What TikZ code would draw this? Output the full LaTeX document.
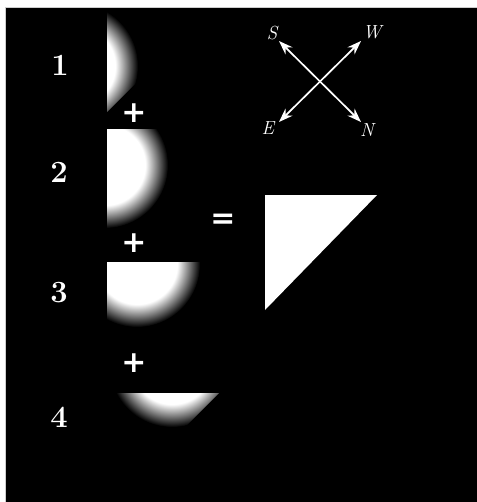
\documentclass[tikz,border=0pt]{standalone}
\usepackage{fontspec}
\usepackage{tikz}
\usetikzlibrary{arrows.meta, positioning}
\newfontfamily\opfont{DejaVu Sans}
\definecolor{myedge}{RGB}{205,205,205}
\definecolor{mybg}{RGB}{0,0,0}
\pgfdeclareradialshading{moonglow}{\pgfpointorigin}{color(0bp)=(white); color(16bp)=(white); color(25bp)=(mybg); color(50bp)=(mybg)}
\tikzset{
  numlabel/.style={text=white, font=\fontsize{31}{31}\selectfont\bfseries, inner sep=0pt},
  oplabel/.style={text=white, font=\fontsize{30}{30}\selectfont\opfont\bfseries, inner sep=0pt},
  dirlabel/.style={text=white, font=\fontsize{19}{19}\selectfont\itshape, inner sep=0pt},
  dirarrow/.style={{Stealth[length=14pt,width=10pt]}-{Stealth[length=14pt,width=10pt]}, line width=1.7pt, white},
  glow/.style={shading=moonglow}
}

\begin{document}
\begin{tikzpicture}[x=1bp, y=-1bp]
  \useasboundingbox (0,0) rectangle (477,502);
  \fill[white] (0,0) rectangle (477,502);
  \fill[mybg] (5,7) rectangle (477,502);
  \draw[myedge, line width=0.6bp] (5,502) -- (5,7) -- (477,7);

  % the four pieces
  \begin{scope}
    \clip (107,0) -- (219,0) -- (107,112) -- cycle;
    \shade[glow] (75,66) circle[radius=63bp];
  \end{scope}
  \begin{scope}
    \clip (107,130) rectangle (200,240);
    \shade[glow] (105,165) circle[radius=63bp];
  \end{scope}
  \begin{scope}
    \clip (107,262) rectangle (210,340);
    \shade[glow] (137,264) circle[radius=63bp];
  \end{scope}
  \begin{scope}
    \clip (100,393) -- (219,393) -- (100,512) -- cycle;
    \shade[glow] (172,364) circle[radius=63bp];
  \end{scope}

  % result
  \fill[white] (265,195) -- (377,195) -- (265,310) -- cycle;

  \node[numlabel] (one) at (60,65) {1};
  \node[numlabel] (two) at (59,172) {2};
  \node[numlabel] (three) at (59,293) {3};
  \node[numlabel] (four) at (59,417) {4};

  \node[oplabel] (plusA) at (134,113) {+};
  \node[oplabel] (plusB) at (134,243) {+};
  \node[oplabel] (plusC) at (134,363) {+};
  \node[oplabel] (equals) at (223,221) {=};

  % compass
  \coordinate (tipS) at (279,41);
  \coordinate (tipW) at (361,41);
  \coordinate (tipE) at (279,122);
  \coordinate (tipN) at (361,122);
  \draw[dirarrow] (tipS) -- (tipN);
  \draw[dirarrow] (tipW) -- (tipE);
  \node[dirlabel] (labS) at (272,33) {S};
  \node[dirlabel] (labW) at (372,32) {W};
  \node[dirlabel] (labE) at (268,128) {E};
  \node[dirlabel] (labN) at (367,130) {N};
\end{tikzpicture}
\end{document}
